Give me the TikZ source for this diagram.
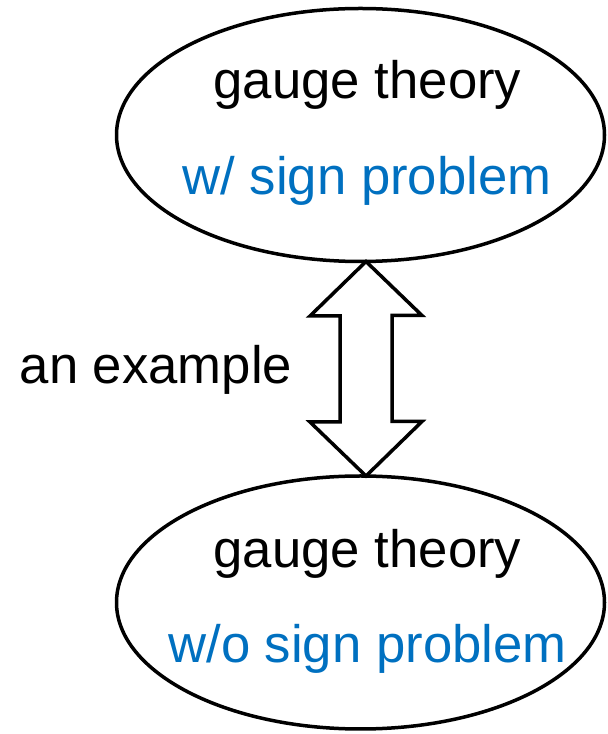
\documentclass[tikz,border=0pt]{standalone}
\usepackage{fontspec}
\setmainfont{Liberation Sans}
\usetikzlibrary{shapes.geometric,calc}
\definecolor{signblue}{RGB}{0,112,192}
\tikzset{
  theory/.style={draw=black, line width=3.5pt, ellipse, inner sep=0pt, outer sep=0pt,
    minimum width=488pt, minimum height=253pt},
  label/.style={inner sep=0pt, anchor=base, font=\fontsize{52.7}{60}\selectfont},
  bluelabel/.style={label, text=signblue},
  bigarrow/.style={draw=black, fill=white, line width=3.5pt, line join=miter}
}
\begin{document}
\begin{tikzpicture}[x=1pt, y=1pt]
  \useasboundingbox (0,0) rectangle (608,734);

  % the two theories
  \node[theory] (upper) at (360.5,599) {};
  \node[theory] (lower) at (360.5,131.5) {};

  \node[label] (upperName) at (367.5,635) {gauge theory};
  \node[bluelabel] (upperSign) at (367,539) {w/ sign problem};
  \node[label] (lowerName) at (367.5,166) {gauge theory};
  \node[bluelabel] (lowerSign) at (367.5,71) {w/o sign problem};

  % two-headed block arrow between them
  \coordinate (tipT) at ($(upper.south)+(5.5,0)$);
  \coordinate (tipB) at ($(lower.north)+(5.5,0)$);
  \draw[bigarrow] (tipT) -- ++(56,-54) -- ++(-30,0) -- ++(0,-106) -- ++(30,0)
    -- (tipB) -- ++(-56,54) -- ++(30,0) -- ++(0,106) -- ++(-30,0) -- cycle;

  \node[label] (relation) at (156,350) {an example};
\end{tikzpicture}
\end{document}
